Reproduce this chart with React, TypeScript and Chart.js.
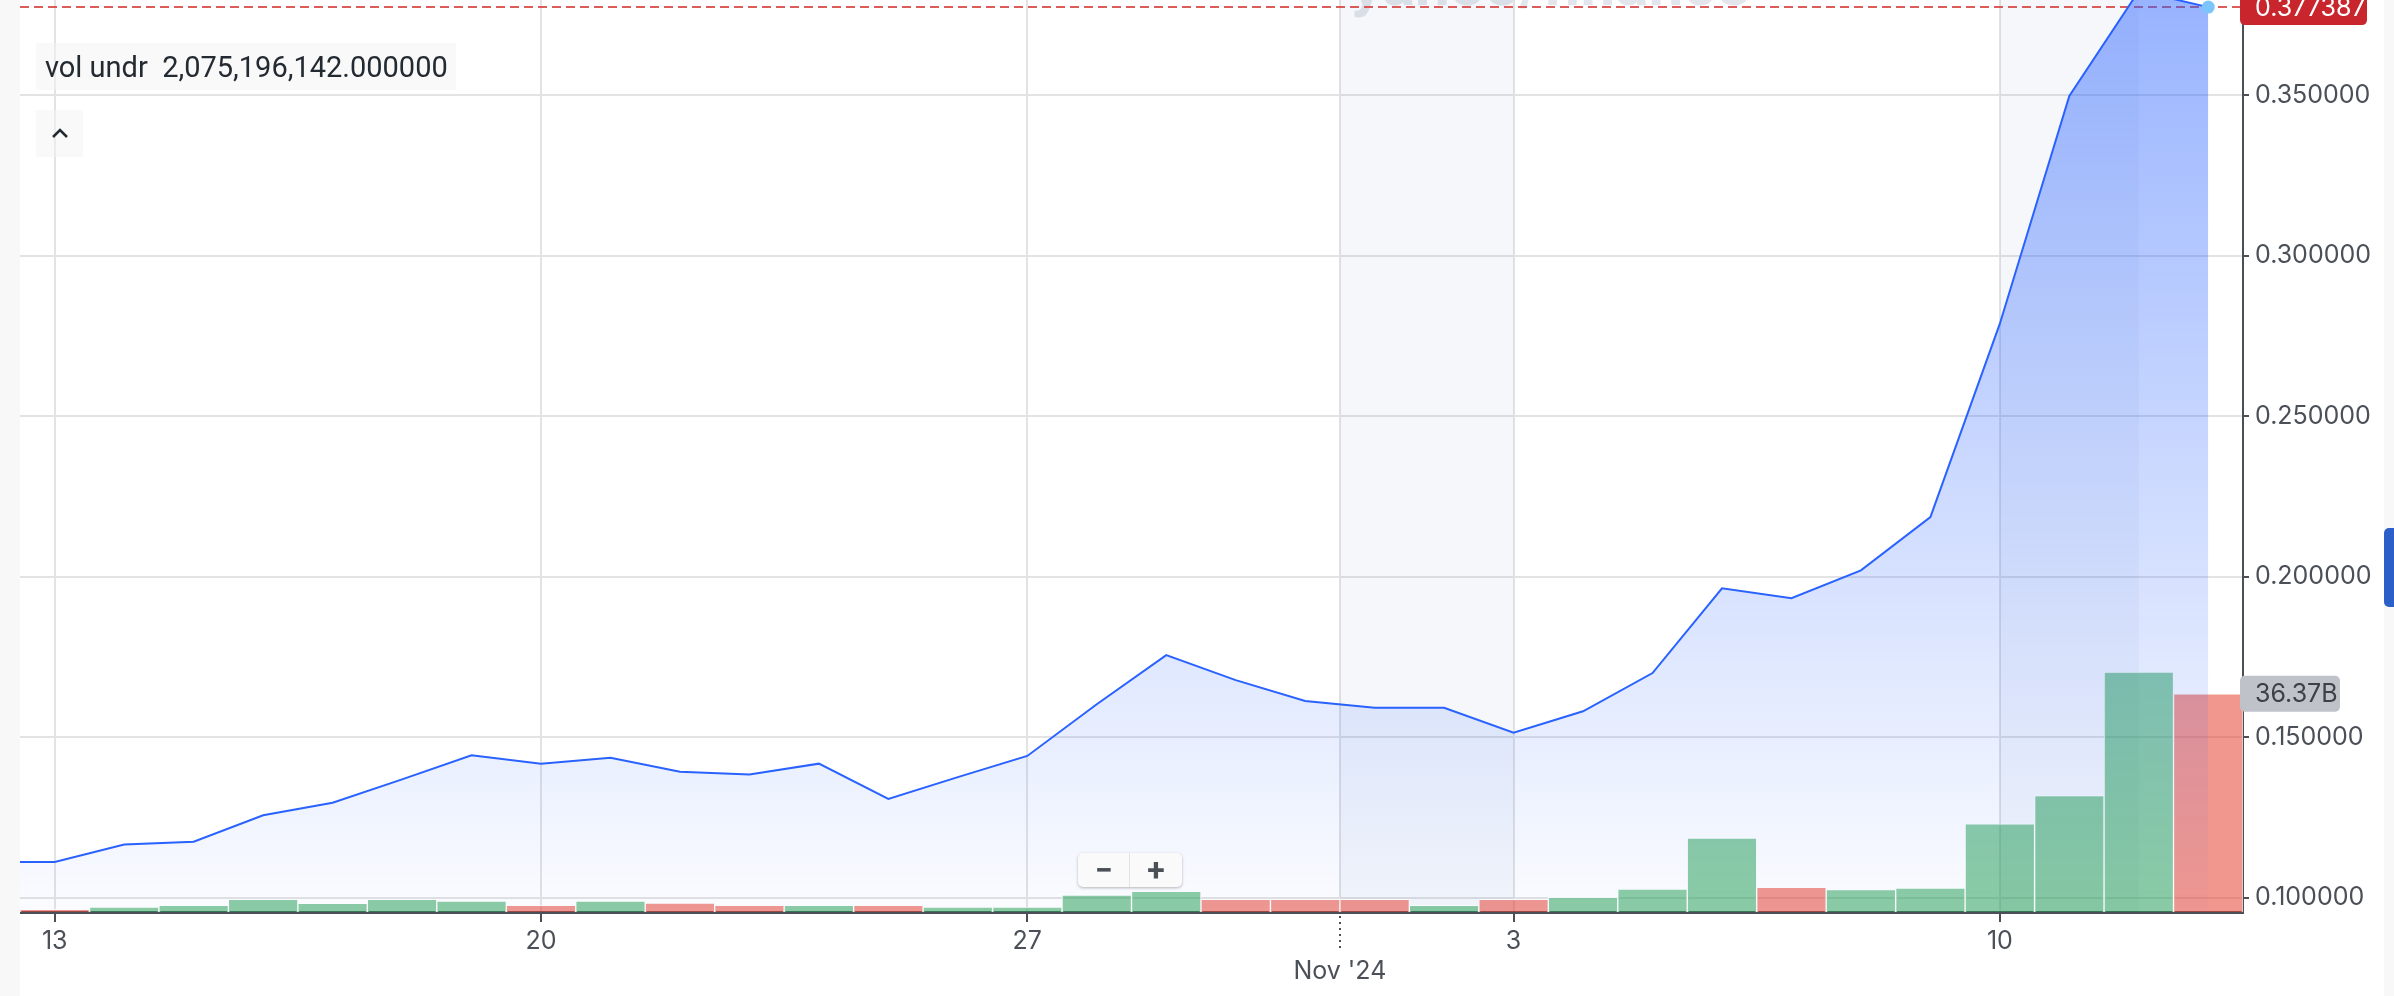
import React, { useEffect, useRef } from 'react';
import { Chart, registerables } from 'chart.js';

Chart.register(...registerables);

// Daily dates: Oct 12 .. Nov 13 2024 (x index = position - 1, so Oct 13 = 0)
const DATES = [
  'Oct 12', 'Oct 13', 'Oct 14', 'Oct 15', 'Oct 16', 'Oct 17', 'Oct 18', 'Oct 19', 'Oct 20',
  'Oct 21', 'Oct 22', 'Oct 23', 'Oct 24', 'Oct 25', 'Oct 26', 'Oct 27', 'Oct 28', 'Oct 29',
  'Oct 30', 'Oct 31', 'Nov 1', 'Nov 2', 'Nov 3', 'Nov 4', 'Nov 5', 'Nov 6', 'Nov 7', 'Nov 8',
  'Nov 9', 'Nov 10', 'Nov 11', 'Nov 12', 'Nov 13',
];

const PRICES = [
  0.1112, 0.1112, 0.1166, 0.1175, 0.1257, 0.1296, 0.1369, 0.1444, 0.1418,
  0.1436, 0.1393, 0.1384, 0.1418, 0.1308, 0.1376, 0.1442, 0.1603, 0.1756,
  0.1678, 0.1613, 0.1592, 0.1592, 0.1514, 0.1581, 0.1700, 0.1964, 0.1933, 0.2020,
  0.2186, 0.2788, 0.3497, 0.3824, 0.377387,
];

// Volume in billions (no bar for Oct 12)
const VOLUMES: (number | null)[] = [
  null, 0.45, 0.8, 1.1, 2.1, 1.45, 2.1, 1.8, 1.1,
  1.8, 1.5, 1.1, 1.1, 1.1, 0.8, 0.8, 2.8, 3.45,
  2.1, 2.1, 2.1, 1.1, 2.1, 2.45, 3.8, 12.3, 4.1, 3.75,
  4.0, 14.7, 19.4, 40.0, 36.37,
];

const VOL_UP = [
  false, false, true, true, true, true, true, true, false,
  true, false, false, true, false, true, true, true, true,
  false, false, false, true, false, true, true, true, false, true,
  true, true, true, true, false,
];

const X_TICK_POS = [0, 7, 14, 18.5, 21, 28];
const X_TICK_LABELS: (string | string[])[] = ['13', '20', '27', ['', "Nov '24"], '3', '10'];
const Y_TICKS = [0.1, 0.15, 0.2, 0.25, 0.3, 0.35];
const SHADES = [[18.5, 21], [28, 30]];
const LEGEND_TEXT = 'vol undr  2,075,196,142.000000';

const AXIS_COLOR = '#4b5058';
const GRID_COLOR = '#e3e3e3';
const FONT = 'Inter';

const overlayPlugin = {
  id: 'overlay',
  beforeDraw(chart: any) {
    const ctx = chart.ctx;
    ctx.save();
    ctx.font = 'bold 62px Roboto';
    ctx.fillStyle = '#e2e6ec';
    ctx.textBaseline = 'alphabetic';
    ctx.fillText('yahoo/finance', 1331, 5);
    ctx.restore();
  },
  beforeDatasetsDraw(chart: any) {
    const ctx = chart.ctx;
    const ca = chart.chartArea;
    const xS = chart.scales.x;
    const yS = chart.scales.y;
    ctx.save();
    ctx.fillStyle = 'rgba(30,60,130,0.045)';
    SHADES.forEach(([a, b]) => {
      const x1 = xS.getPixelForValue(a);
      const x2 = xS.getPixelForValue(b);
      ctx.fillRect(x1, ca.top, x2 - x1, ca.bottom - ca.top);
    });
    const py = yS.getPixelForValue(PRICES[PRICES.length - 1]);
    ctx.strokeStyle = 'rgba(214,62,62,0.85)';
    ctx.lineWidth = 2;
    ctx.setLineDash([9, 5]);
    ctx.beginPath();
    ctx.moveTo(ca.left, py);
    ctx.lineTo(ca.right, py);
    ctx.stroke();
    ctx.restore();
  },
  afterDraw(chart: any) {
    const ctx = chart.ctx;
    const ca = chart.chartArea;
    const xS = chart.scales.x;
    const yS = chart.scales.y;
    const vS = chart.scales.yv;
    ctx.save();
    // dotted month tick
    const mx = Math.round(xS.getPixelForValue(18.5));
    ctx.strokeStyle = AXIS_COLOR;
    ctx.lineWidth = 2;
    ctx.setLineDash([2, 4]);
    ctx.beginPath();
    ctx.moveTo(mx, ca.bottom + 4);
    ctx.lineTo(mx, ca.bottom + 40);
    ctx.stroke();
    ctx.setLineDash([]);

    ctx.font = `25px ${FONT}`;
    ctx.textBaseline = 'middle';
    ctx.textAlign = 'left';
    // last price label
    const last = PRICES[PRICES.length - 1];
    const py = yS.getPixelForValue(last);
    ctx.fillStyle = '#c8262c';
    ctx.beginPath();
    ctx.roundRect(ca.right - 3, py - 18, 127, 36, 5);
    ctx.fill();
    ctx.fillStyle = '#ffffff';
    ctx.fillText(last.toFixed(6), ca.right + 12, py + 1);
    // last volume label
    const lv = VOLUMES[VOLUMES.length - 1] as number;
    const vy = vS.getPixelForValue(lv * 1e9);
    ctx.fillStyle = '#bfc3c9';
    ctx.beginPath();
    ctx.roundRect(ca.right - 3, vy - 18, 100, 36, 5);
    ctx.fill();
    ctx.fillStyle = '#3c4148';
    ctx.fillText(lv.toFixed(2) + 'B', ca.right + 12, vy + 1);
    ctx.restore();
  },
};

export default function App() {
  const ref = useRef<HTMLCanvasElement>(null);

  useEffect(() => {
    document.body.style.margin = '0';
    const lineData = PRICES.map((p, i) => ({ x: i - 1, y: p }));
    const barData = VOLUMES.map((v, i) => ({ x: i - 1, y: v === null ? null : v * 1e9 }));
    const barColors = VOL_UP.map((u) => (u ? 'rgba(34,160,80,0.52)' : 'rgba(232,65,50,0.55)'));

    const chart = new Chart(ref.current as HTMLCanvasElement, {
      type: 'bar',
      data: {
        datasets: [
          {
            type: 'line',
            label: 'price',
            data: lineData as any,
            xAxisID: 'x',
            yAxisID: 'y',
            borderColor: '#2962ff',
            borderWidth: 2,
            tension: 0,
            fill: 'start',
            clip: 0 as any,
            order: 0,
            backgroundColor: (c: any) => {
              const ca = c.chart.chartArea;
              if (!ca) return 'transparent';
              const g = c.chart.ctx.createLinearGradient(0, ca.top, 0, ca.bottom);
              g.addColorStop(0, 'rgba(41,98,255,0.48)');
              g.addColorStop(1, 'rgba(41,98,255,0.02)');
              return g;
            },
            pointRadius: (c: any) => (c.dataIndex === PRICES.length - 1 ? 6.5 : 0),
            pointBackgroundColor: '#7cc5fb',
            pointBorderWidth: 0,
          } as any,
          {
            type: 'bar',
            label: 'volume',
            data: barData as any,
            xAxisID: 'x',
            yAxisID: 'yv',
            backgroundColor: barColors,
            borderColor: 'rgba(255,255,255,0.85)',
            borderWidth: 1,
            borderSkipped: 'start',
            barPercentage: 1,
            categoryPercentage: 1,
            order: 1,
          } as any,
        ],
      },
      options: {
        responsive: false,
        maintainAspectRatio: false,
        devicePixelRatio: 1,
        animation: false,
        events: [],
        layout: { padding: 0, autoPadding: false },
        plugins: { legend: { display: false }, tooltip: { enabled: false } },
        scales: {
          x: {
            type: 'linear',
            position: 'bottom',
            min: -0.5,
            max: 31.5,
            offset: false,
            afterBuildTicks: (s: any) => {
              s.ticks = X_TICK_POS.map((v) => ({ value: v }));
            },
            afterFit: (s: any) => {
              s.height = 84;
              s.paddingLeft = 0;
              s.paddingRight = 0;
            },
            grid: {
              offset: false,
              color: GRID_COLOR,
              lineWidth: 2,
              tickLength: 10,
              tickColor: (c: any) => (c.tick && c.tick.value === 18.5 ? 'rgba(0,0,0,0)' : AXIS_COLOR),
            },
            border: { display: true, color: AXIS_COLOR, width: 3 },
            ticks: {
              autoSkip: false,
              maxRotation: 0,
              minRotation: 0,
              padding: 4,
              color: AXIS_COLOR,
              font: { family: FONT, size: 25, lineHeight: 1.2 },
              callback: (_v: any, i: number) => X_TICK_LABELS[i],
            },
          },
          y: {
            type: 'linear',
            position: 'right',
            min: 0.0956,
            max: 0.3796,
            afterBuildTicks: (s: any) => {
              s.ticks = Y_TICKS.map((v) => ({ value: v }));
            },
            afterFit: (s: any) => {
              s.width = 141;
              s.paddingTop = 0;
              s.paddingBottom = 0;
            },
            grid: { color: GRID_COLOR, lineWidth: 2, tickLength: 6, tickColor: AXIS_COLOR },
            border: { display: true, color: AXIS_COLOR, width: 2 },
            ticks: {
              padding: 6,
              color: AXIS_COLOR,
              font: { family: FONT, size: 25 },
              callback: (v: any) => Number(v).toFixed(6),
            },
          },
          yv: {
            type: 'linear',
            position: 'left',
            display: false,
            min: 0,
            max: 152e9,
          },
        },
      } as any,
      plugins: [overlayPlugin],
    });
    return () => chart.destroy();
  }, []);

  return (
    <div style={{ position: 'fixed', left: 0, top: 0, width: 2394, height: 996, background: '#f8f8f8', overflow: 'hidden' }}>
      <div style={{ position: 'absolute', left: 20, top: 0, width: 2364, height: 996, background: '#ffffff' }}>
        <canvas ref={ref} width={2364} height={996} style={{ display: 'block', width: 2364, height: 996 }} />
      </div>
      <div
        style={{
          position: 'absolute', left: 36, top: 43, width: 420, height: 47,
          background: 'rgba(244,244,244,0.5)', display: 'flex', alignItems: 'center',
          paddingLeft: 9, boxSizing: 'border-box', fontFamily: 'Roboto', fontSize: 29,
          color: '#232a31', whiteSpace: 'pre',
        }}
      >
        {LEGEND_TEXT}
      </div>
      <div style={{ position: 'absolute', left: 36, top: 110, width: 47, height: 47, background: 'rgba(244,244,244,0.5)' }}>
        <svg width="47" height="47">
          <polyline points="17,27 24,20 31,27" fill="none" stroke="#232a31" strokeWidth="2.5" />
        </svg>
      </div>
      <div
        style={{
          position: 'absolute', left: 1078, top: 853, width: 104, height: 34, background: '#fafafa',
          borderRadius: 5, boxShadow: '0 1px 3px rgba(0,0,0,0.28)', display: 'flex',
          fontFamily: 'Roboto', fontWeight: 700, fontSize: 32, color: '#4b4f56',
        }}
      >
        <div style={{ width: 51, height: 34, display: 'flex', alignItems: 'center', justifyContent: 'center', borderRight: '1px solid #e2e2e2' }}>−</div>
        <div style={{ width: 52, height: 34, display: 'flex', alignItems: 'center', justifyContent: 'center' }}>+</div>
      </div>
      <div style={{ position: 'absolute', left: 2384, top: 528, width: 10, height: 79, background: '#2c5fc8', borderRadius: '5px 0 0 5px' }} />
    </div>
  );
}
